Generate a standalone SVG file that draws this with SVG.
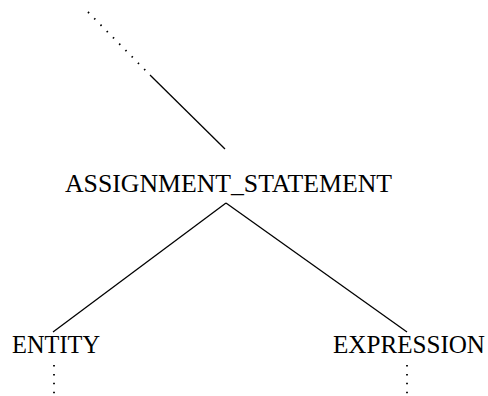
<svg xmlns="http://www.w3.org/2000/svg" width="488" height="396" viewBox="0 0 488 396">
<style>
text{font-family:"Liberation Serif","Times New Roman",serif;font-size:25px;fill:#000}
.solid{stroke:#000;stroke-width:1.3;fill:none}
.dot{stroke:#000;stroke-width:1.8;fill:none;stroke-dasharray:1.5 7.4}
</style>
<rect width="488" height="396" fill="#fff"/>
<g id="connectors">
<line class="dot" x1="88" y1="12" x2="148" y2="73"/>
<line class="solid" x1="150" y1="75" x2="225" y2="149"/>
<line class="solid" x1="226" y1="203" x2="53" y2="332"/>
<line class="solid" x1="226" y1="203" x2="407" y2="332"/>
<line class="dot" x1="54" y1="365" x2="54" y2="396"/>
<line class="dot" x1="407" y1="365" x2="407" y2="396"/>
</g>
<g id="assignment_statement"><text x="65" y="192" textLength="327" lengthAdjust="spacingAndGlyphs">ASSIGNMENT_STATEMENT</text></g>
<g id="entity"><text x="12" y="353" textLength="88" lengthAdjust="spacingAndGlyphs">ENTITY</text></g>
<g id="expression"><text x="333" y="353" textLength="152" lengthAdjust="spacingAndGlyphs">EXPRESSION</text></g>
</svg>
